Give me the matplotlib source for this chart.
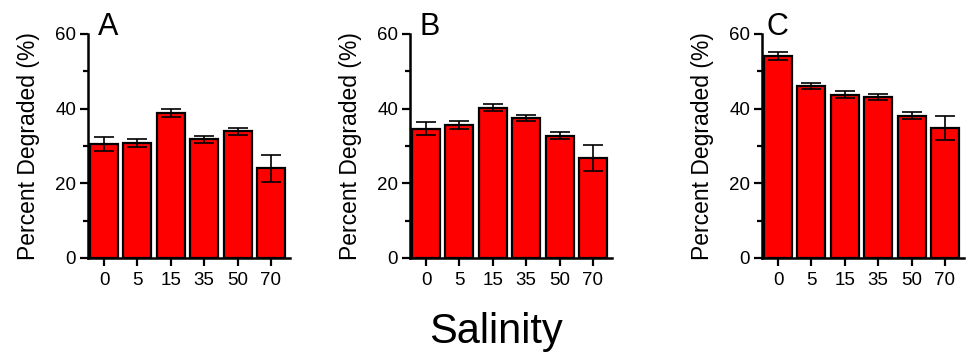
import numpy as np
import matplotlib
matplotlib.use("Agg")
import matplotlib.pyplot as plt
from matplotlib.ticker import MultipleLocator

plt.rcParams["font.family"] = ["Liberation Sans", "DejaVu Sans"]

# ── Data ──────────────────────────────────────────────────────────────────────
salinity = ["0", "5", "15", "35", "50", "70"]
panels = ["A", "B", "C"]

degraded_a = [30.5, 30.7, 38.9, 31.8, 33.9, 24.0]
err_a = [1.9, 1.1, 1.0, 1.0, 1.0, 3.7]

degraded_b = [34.6, 35.6, 40.3, 37.6, 32.8, 26.8]
err_b = [1.7, 1.0, 1.0, 0.8, 0.9, 3.5]

degraded_c = [54.1, 46.1, 43.7, 43.2, 38.1, 34.9]
err_c = [1.0, 0.8, 0.9, 0.8, 0.9, 3.2]

values = [degraded_a, degraded_b, degraded_c]
errors = [err_a, err_b, err_c]

# ── Figure ────────────────────────────────────────────────────────────────────
W, H = 966, 355
fig = plt.figure(figsize=(W / 100, H / 100), dpi=100)

ax_lefts = [88, 410, 762]      # px, y-axis position of each panel
letter_dx = [10, 9, 5]         # px, panel letter offset from the y-axis
ax_w, ax_h, ax_bottom = 202, 224, 97

x = np.arange(len(salinity))
for i, (letter, vals, errs) in enumerate(zip(panels, values, errors)):
    ax = fig.add_axes([ax_lefts[i] / W, ax_bottom / H, ax_w / W, ax_h / H])
    ax.bar(x, vals, width=0.84, color="#ff0000", edgecolor="black", linewidth=1.6, zorder=2)
    ax.errorbar(x, vals, yerr=errs, fmt="none", ecolor="black", elinewidth=1.2,
                capsize=7.5, capthick=1.2, zorder=3)

    ax.set_xlim(-0.48, 5.57)
    ax.set_ylim(0, 60)
    ax.set_xticks(x)
    ax.set_xticklabels(salinity)
    ax.yaxis.set_major_locator(MultipleLocator(20))
    ax.yaxis.set_minor_locator(MultipleLocator(10))

    for side in ("top", "right"):
        ax.spines[side].set_visible(False)
    for side in ("left", "bottom"):
        ax.spines[side].set_linewidth(1.8)

    ax.tick_params(axis="both", which="major", direction="out", length=5.5, width=1.6,
                   labelsize=13.5, pad=3)
    ax.tick_params(axis="x", which="major", pad=4.5)
    ax.tick_params(axis="y", which="minor", direction="out", length=3.5, width=1.6)
    ax.set_ylabel("Percent Degraded (%)", fontsize=16.5, labelpad=11)

    fig.text((ax_lefts[i] + letter_dx[i]) / W, (H - 35) / H, letter,
             fontsize=22, ha="left", va="baseline")

fig.text(496 / W, 12 / H, "Salinity", fontsize=30, ha="center", va="baseline")

fig.savefig("out.png", dpi=100)
